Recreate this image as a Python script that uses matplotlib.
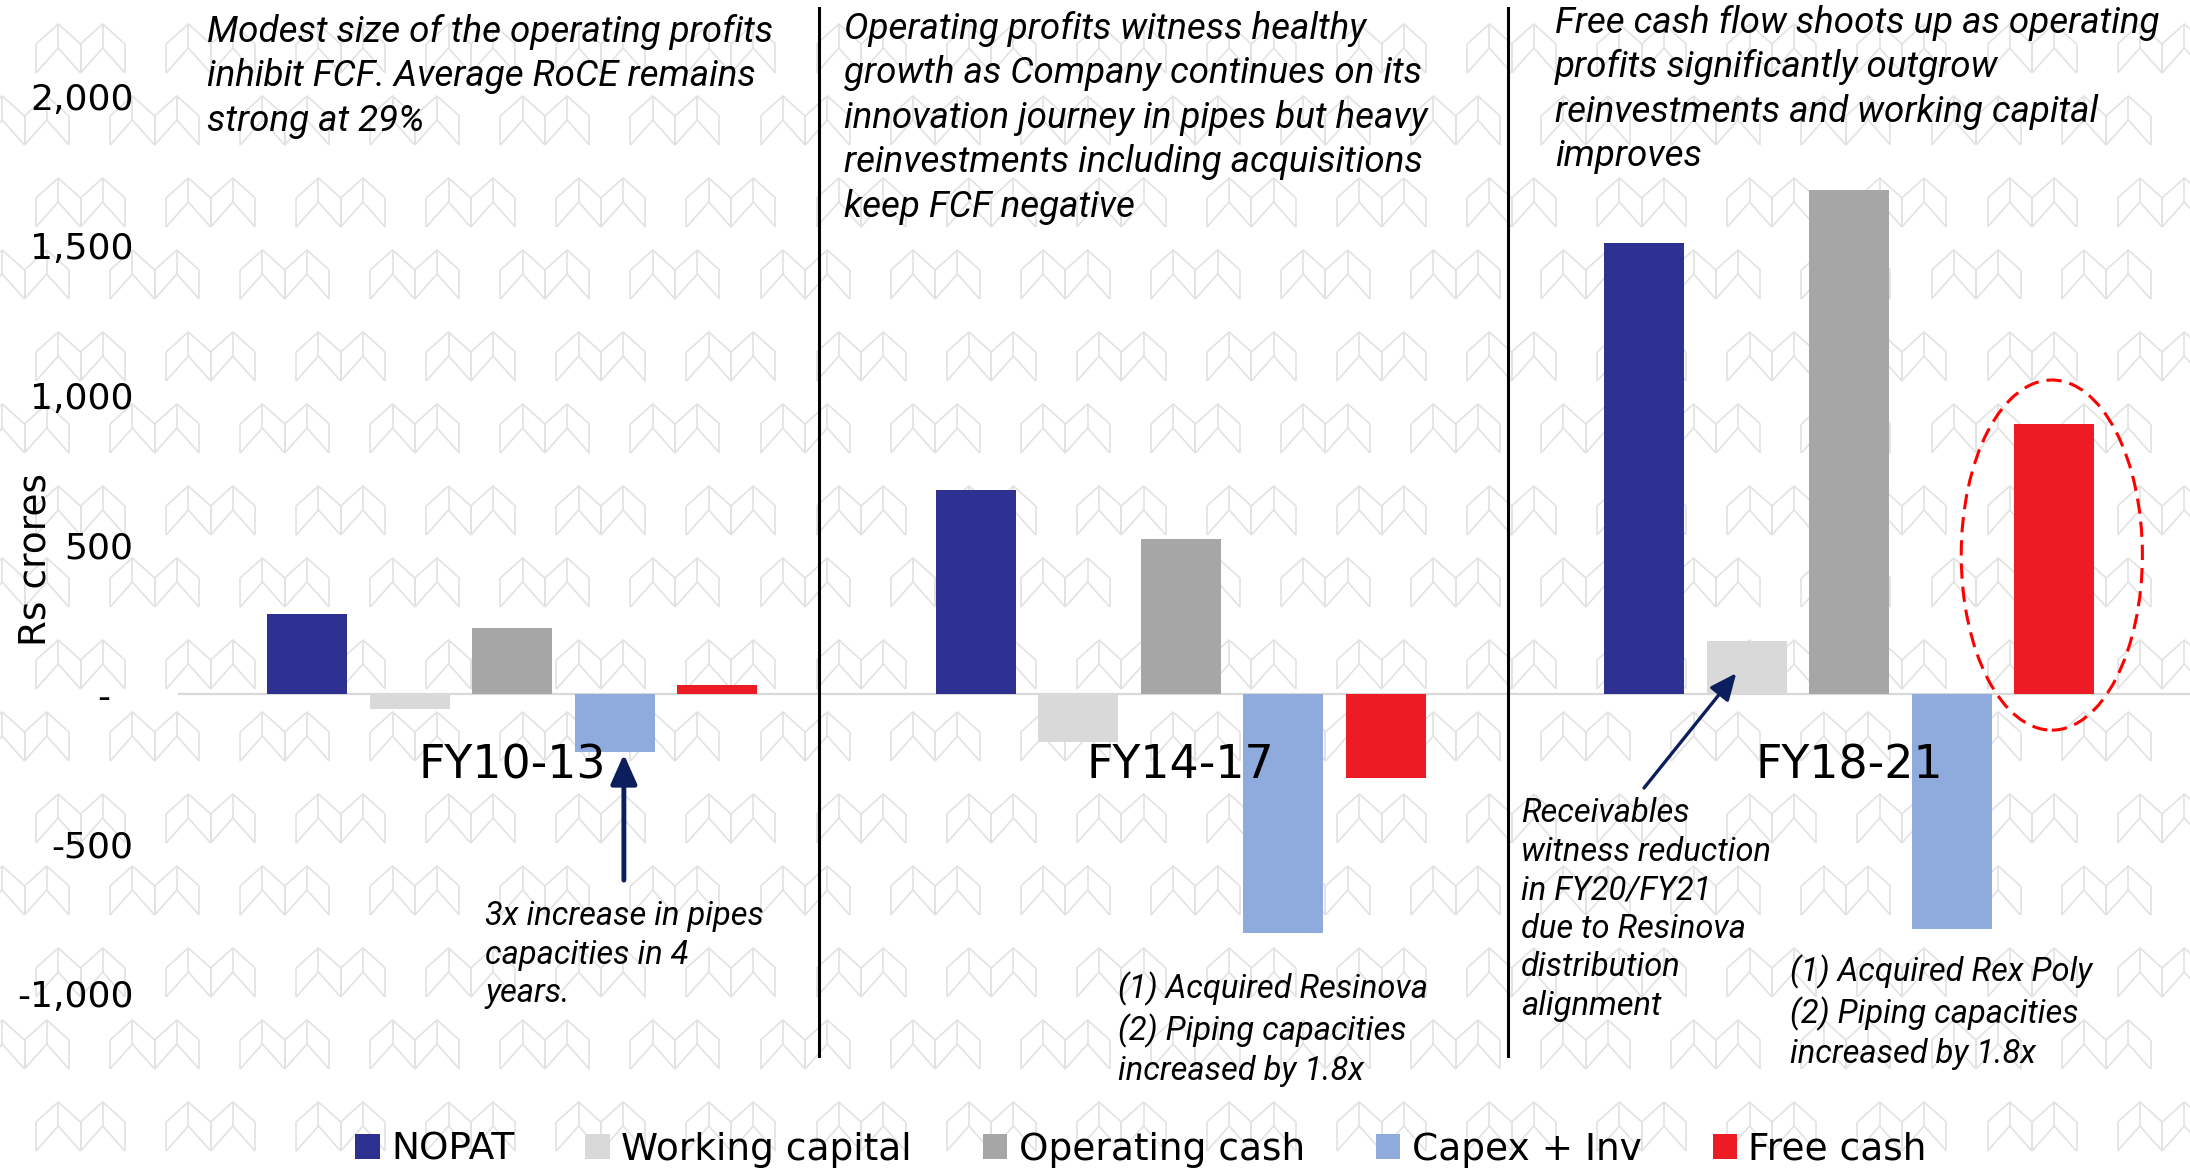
import numpy as np
import matplotlib
matplotlib.use("Agg")
import matplotlib.pyplot as plt
from matplotlib.patches import Patch, Ellipse
from matplotlib.collections import LineCollection

W, H = 2190, 1170

# ---- data (Rs crores) ----
periods = ["FY10-13", "FY14-17", "FY18-21"]
series = ["NOPAT", "Working capital", "Operating cash", "Capex + Inv", "Free cash"]
nopat = [268, 681, 1508]
working_capital = [-49, -160, 177]
operating_cash = [222, 520, 1686]
capex_inv = [-194, -800, -786]
free_cash = [29, -279, 902]
colors = ["#2E3192", "#D9D9D9", "#A6A6A6", "#8FAADC", "#ED1C24"]

yticks = [-1000, -500, 0, 500, 1000, 1500, 2000]
ytick_labels = ["-1,000", "-500", "-  ", "500", "1,000", "1,500", "2,000"]

notes_top = [
    "Modest size of the operating profits\ninhibit FCF. Average RoCE remains\nstrong at 29%",
    "Operating profits witness healthy\ngrowth as Company continues on its\ninnovation journey in pipes but heavy\n"
    "reinvestments including acquisitions\nkeep FCF negative",
    "Free cash flow shoots up as operating\nprofits significantly outgrow\nreinvestments and working capital\nimproves",
]
note_pipes = "3x increase in pipes\ncapacities in 4\nyears."
note_resinova = "(1) Acquired Resinova\n(2) Piping capacities\nincreased by 1.8x"
note_receivables = "Receivables\nwitness reduction\nin FY20/FY21\ndue to Resinova\ndistribution\nalignment"
note_rexpoly = "(1) Acquired Rex Poly\n(2) Piping capacities\nincreased by 1.8x"


def px(x, y):
    # pixel position measured from the top-left corner -> figure fraction
    return x / W, 1 - y / H


plt.rcParams["font.family"] = ["DejaVu Sans"]
ITALIC = ["Roboto", "DejaVu Sans"]

fig = plt.figure(figsize=(W / 100, H / 100), dpi=100)

# background watermark of "M" shapes
segs = []
for y0_start, x0_start in ((24, 36), (96, -20)):
    for y0 in np.arange(y0_start, H + 60, 154):
        for x0 in np.arange(x0_start - 130.1, W + 60, 130.1):
            for hx in (x0, x0 + 44.5):
                pk = hx + 22.25
                rt = hx + 44.5
                segs.append([(hx, y0 + 20), (pk, y0), (rt, y0 + 20)])
                segs.append([(pk, y0), (pk, y0 + 24)])
                segs.append([(hx, y0 + 49), (pk, y0 + 24), (rt, y0 + 49)])
                segs.append([(hx, y0 + 20), (hx, y0 + 49)])
                segs.append([(rt, y0 + 20), (rt, y0 + 49)])
segs = [[px(a, b) for a, b in s] for s in segs]
fig.add_artist(LineCollection(segs, colors="#E2E2E2", linewidths=1.2,
                              transform=fig.transFigure, zorder=-5))

ax = fig.add_axes([178 / W, 1 - 1058 / H, (W - 178) / W, (1058 - 7) / H])
ax.patch.set_alpha(0)

x = np.arange(len(periods))
step = 0.1533
bw = 0.12
all_vals = [nopat, working_capital, operating_cash, capex_inv, free_cash]
for k, (vals, c) in enumerate(zip(all_vals, colors)):
    ax.bar(x + (k - 2) * step, vals, width=bw, color=c, zorder=3)

ax.axhline(0, color="#D9D9D9", lw=1.6, zorder=2)
ax.set_xlim(-0.5, (W - 178) / 668.5 - 0.5)
ax.set_ylim(-1217, 2298)
ax.set_xticks([])
ax.set_yticks(yticks)
ax.set_yticklabels(ytick_labels, fontsize=26)
ax.tick_params(axis="y", length=0, pad=32)
for s in ax.spines.values():
    s.set_visible(False)

for xs in (0.4589, 1.4895):
    ax.axvline(xs, color="black", lw=2.2, zorder=4)

for i, p in enumerate(periods):
    ax.text(i, -281, p, ha="center", va="baseline", fontsize=33, zorder=5)

fig.text(*px(35, 559), "Rs crores", rotation=90, ha="center", va="center", fontsize=27)

# commentary (y = top of first line)
for (xp, yt), t in zip([(207, 14), (844, 11), (1555, 5)], notes_top):
    fig.text(*px(xp, yt), t, ha="left", va="top", fontsize=26.5,
             family=ITALIC, style="italic", linespacing=1.30)

for (xp, yt), t in zip([(485, 900), (1118, 972), (1521, 797), (1790, 955)],
                       [note_pipes, note_resinova, note_receivables, note_rexpoly]):
    fig.text(*px(xp, yt), t, ha="left", va="top", fontsize=23.5,
             family=ITALIC, style="italic", linespacing=1.265)

navy = "#0B1F5C"
ax.annotate("", xy=(0.167, -201), xytext=(0.167, -622),
            arrowprops=dict(arrowstyle="-|>,head_length=0.9,head_width=0.4",
                            mutation_scale=20, color=navy, lw=3.5,
                            shrinkA=0, shrinkB=0), zorder=6)
ax.annotate("", xy=(1.831, 70), xytext=(1.693, -314),
            arrowprops=dict(arrowstyle="-|>,head_length=0.9,head_width=0.4",
                            mutation_scale=18, color=navy, lw=2.4,
                            shrinkA=0, shrinkB=0), zorder=6)

ax.add_patch(Ellipse((2.303, 465), 0.271, 1171, fill=False, ec="#FF0000",
                     lw=2.2, ls=(0, (5, 2.6)), zorder=6))

handles = [Patch(facecolor=c, edgecolor="none") for c in colors]
fig.legend(handles, series, loc="center", bbox_to_anchor=px(1141, 1150), ncol=5,
           frameon=False, fontsize=27, handlelength=0.65, handleheight=0.65,
           handletextpad=0.3, columnspacing=1.9, borderaxespad=0, borderpad=0)

fig.savefig("out.png", dpi=100)
